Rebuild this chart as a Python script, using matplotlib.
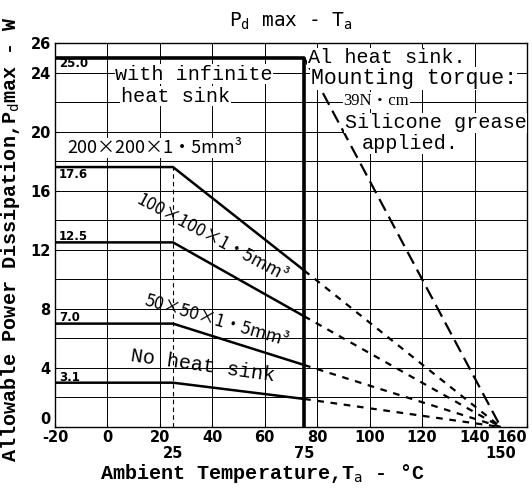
import numpy as np
import matplotlib
matplotlib.use("Agg")
import matplotlib.pyplot as plt

plt.rcParams['mathtext.fontset'] = 'custom'
plt.rcParams['mathtext.rm'] = 'DejaVu Sans Mono'
plt.rcParams['mathtext.it'] = 'DejaVu Sans Mono'

# data
t_flat = [-20, 25, 75]
pd_200 = [17.6, 17.6, 10.6]
pd_100 = [12.5, 12.5, 7.5]
pd_50 = [7.0, 7.0, 4.2]
pd_none = [3.0, 3.0, 1.9]
t_inf = [-20, 75, 75]
pd_inf = [25.0, 25.0, 0.0]
t_derate = [75, 150]
values = ["25.0", "17.6", "12.5", "7.0", "3.1"]
value_y = [24.6, 17.1, 12.9, 7.4, 3.35]

xticks = [-20, 0, 20, 40, 60, 80, 100, 120, 140, 160]
xticks_extra = [25, 75, 150]
yticks = [0, 4, 8, 12, 16, 20, 24, 26]

mono = 'Liberation Mono'
jp = ['Noto Sans CJK JP', 'DejaVu Sans']
white = dict(fc='white', ec='none', pad=0.5)

fig = plt.figure(figsize=(5.32, 4.88), dpi=100)
ax = fig.add_axes([0.1034, 0.125, 0.8872, 0.7869])
ax.set_xlim(-20, 160)
ax.set_ylim(0, 26)

for x in xticks[1:-1]:
    ax.axvline(x, color='black', lw=0.7, zorder=1)
for y in range(2, 26, 2):
    ax.axhline(y, color='black', lw=0.7, zorder=1)
ax.plot([25, 25], [0, 17.6], color='black', lw=0.8, ls=(0, (4, 3)), zorder=1)

lw = 1.8
for series in [pd_200, pd_100, pd_50, pd_none]:
    ax.plot(t_flat, series, color='black', lw=lw, zorder=3)
    ax.plot(t_derate, [series[-1], 0], color='black', lw=1.6,
            ls=(0, (3, 3)), zorder=2)
ax.plot(t_derate, [25, 0], color='black', lw=1.6, ls=(0, (6, 3)), zorder=2)
ax.plot(t_inf, pd_inf, color='black', lw=2.6, zorder=4)

for v, y in zip(values, value_y):
    ax.text(-18.5, y, v, fontsize=8.5, fontweight='bold', ha='left',
            va='center', zorder=5)

ax.text(33, 23.9, "with infinite", family=mono, fontsize=14.5, ha='center',
        va='center', zorder=5, bbox=white)
ax.text(26, 22.4, "heat sink", family=mono, fontsize=14.5, ha='center',
        va='center', zorder=5, bbox=white)

ax.text(18, 18.9, "200×200×1・5mm³", family=jp, fontsize=13, ha='center',
        va='center', zorder=5, bbox=white)
ax.text(40, 12.8, "100×100×1・5mm³", family=jp, fontsize=12.5, ha='center',
        va='center', rotation=-28, zorder=5)
ax.text(41.5, 7.2, "50×50×1・5mm³", family=jp, fontsize=12.5, ha='center',
        va='center', rotation=-16, zorder=5)
ax.text(36.5, 4.15, "No heat sink", family=mono, fontsize=14.5, ha='center',
        va='center', rotation=-8, zorder=5)

ax.text(76.5, 25.0, "Al heat sink.", family=mono, fontsize=14.5, ha='left',
        va='center', zorder=5, bbox=white)
ax.text(77.5, 23.6, "Mounting torque:", family=mono, fontsize=15.5, ha='left',
        va='center', zorder=5, bbox=white)
ax.text(90, 22.1, "39N・cm", family=['Liberation Serif', 'Noto Sans CJK JP'],
        fontsize=12, ha='left', va='center', zorder=5, bbox=white)
ax.text(90.5, 20.6, "Silicone grease", family=mono, fontsize=14.5, ha='left',
        va='center', zorder=5, bbox=white)
ax.text(97, 19.2, "applied.", family=mono, fontsize=14.5, ha='left',
        va='center', zorder=5, bbox=white)

ax.set_xticks(xticks)
ax.set_xticks(xticks_extra, minor=True)
ax.set_xticklabels([str(t) for t in xticks], fontsize=10.5, fontweight='bold')
ax.set_xticklabels([str(t) for t in xticks_extra], minor=True, fontsize=10.5,
                   fontweight='bold')
ax.get_xticklabels()[-1].set_ha('right')
ax.tick_params(axis='x', which='minor', pad=14, length=0)
ax.tick_params(axis='x', which='major', pad=2, length=3, direction='in')
ax.set_yticks(yticks)
ax.set_yticklabels([str(t) for t in yticks], fontsize=10.5, fontweight='bold')
ax.get_yticklabels()[0].set_va('bottom')
ax.tick_params(axis='y', length=3, direction='in', pad=3)

for s in ax.spines.values():
    s.set_linewidth(1.0)

ax.set_xlabel("Ambient Temperature,T$_\\mathrm{a}$ - °C", family=mono,
              fontsize=14.5, fontweight='bold')
ax.xaxis.set_label_coords(0.44, -0.09)
ax.set_ylabel("Allowable Power Dissipation,P$_\\mathrm{d}$max - W", family=mono,
              fontsize=14.5, fontweight='bold')
ax.yaxis.set_label_coords(-0.07, 0.49)
ax.set_title("P$_\\mathrm{d}$ max - T$_\\mathrm{a}$", family='DejaVu Sans Mono',
             fontsize=14, pad=12)

fig.savefig("out.png", dpi=100)
